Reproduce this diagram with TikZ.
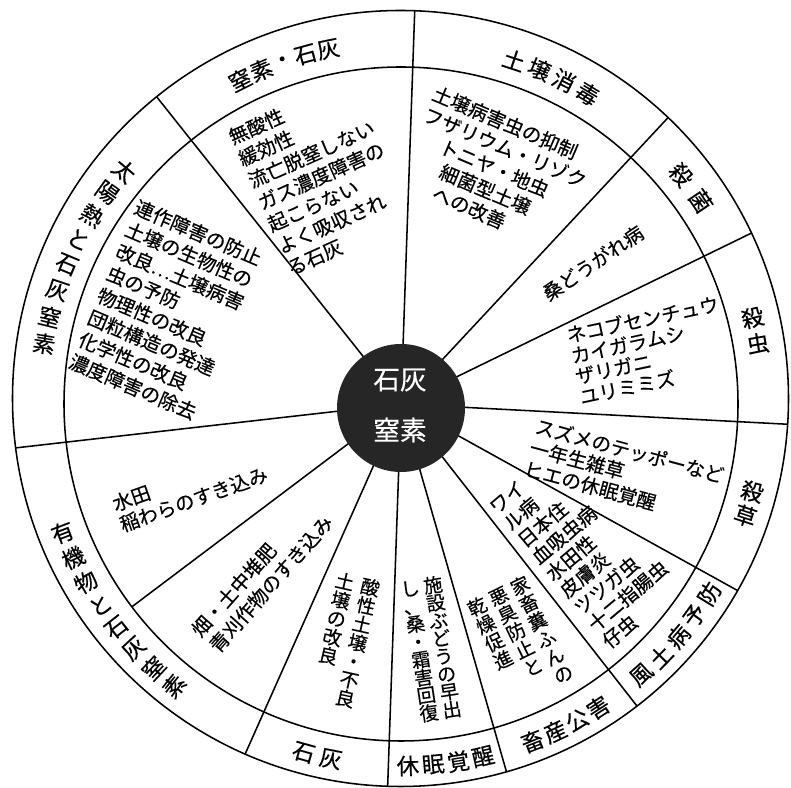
\documentclass[tikz,border=0pt]{standalone}
\usepackage{fontspec}
\setmainfont{Noto Sans CJK JP}[FakeBold=0.4]

\makeatletter
% characters stacked into one vertical column
\newcommand\tate[1]{\vtop{\tate@next#1\@nil}}
\def\tate@next#1{\ifx#1\@nil\else\hbox to 1em{\hss#1\hss}\expandafter\tate@next\fi}
\makeatother

% label set character by character round the ring
\newcommand\ringlabel[5]{%
  \foreach \ch [count=\i] in {#5}
    \node[ringchar, rotate={#2+(\i-1)*(#3)+#4}] (#1-\i) at ({#2+(\i-1)*(#3)}:362) {\ch};
}

\begin{document}
\begin{tikzpicture}[x=0.025cm, y=0.025cm,
    ring/.style={line width=1.1pt},
    ringchar/.style={inner sep=0pt, font=\fontsize{16}{16}\selectfont},
    blk/.style={inner sep=0pt, align=left, font=\fontsize{13.8}{#1}\selectfont},
    blk/.default=17,
    tateblk/.style={inner sep=0pt, font=\fontsize{13.5}{#1}\selectfont},
    tateblk/.default=14,
    centre/.style={inner sep=0pt, text=white, font=\fontsize{19}{19}\selectfont}]
  \useasboundingbox (0,0) rectangle (791,788);

  \begin{scope}[shift={(401,384)}]
    % spokes
    \begin{scope}
      \clip (-0.5,5.5) circle (388);
      \foreach \a in {88,47,26,-3,-29,-52,-74,-92,-114,186.5,128.5}
        \draw[ring] (\a:60) -- (\a:400);
    \end{scope}
    \draw[ring] (-143:60) -- (-143:337);

    \draw[ring] (-0.5,5.5) circle (388);
    \draw[ring] (0,0) circle (337);

    \fill[black!85] (0,-4) circle (64);
    \node[centre] (lime) at (-1,24) {石灰};
    \node[centre] (nitrogen) at (-1,-26) {窒素};

    % ring labels
    \ringlabel{nitrolime}{116.4}{-3.7}{-90}{窒,素,・,石,灰}
    \ringlabel{soildis}{71.8}{-4.27}{-90}{土,壌,消,毒}
    \ringlabel{fungi}{39.3}{-5.2}{-90}{殺,菌}
    \ringlabel{insect}{13.8}{-4.2}{0}{殺,虫}
    \ringlabel{weed}{-14}{-4}{0}{殺,草}
    \ringlabel{endemic}{-48.4}{4.2}{90}{風,土,病,予,防}
    \ringlabel{livestock}{-68.7}{3.9}{90}{畜,産,公,害}
    \ringlabel{dormancy}{-88.9}{4}{90}{休,眠,覚,醒}
    \ringlabel{limeonly}{-105.6}{4.4}{90}{石,灰}
    \ringlabel{organic}{-159.2}{4.34}{180}{有,機,物,と,石,灰,窒,素}
    \ringlabel{solar}{139.9}{4.36}{180}{太,陽,熱,と,石,灰,窒,素}
  \end{scope}

  % texts of the sectors
  \node[blk, rotate=24] (nitroText) at (321,612)
    {無酸性\\緩効性\\流亡脱窒しない\\ガス濃度障害の\\起こらない\\よく吸収され\\る石灰};
  \node[blk=16.4, rotate=-23] (soilText) at (496,619)
    {土壌病害虫の抑制\\フザリウム・リゾク\\\hspace*{1.4em}トニヤ・地虫\\\hspace*{1.9em}細菌型土壌\\\hspace*{2em}への改善};
  \node[blk, rotate=34] (mulberryText) at (593,525) {桑どうがれ病};
  \node[blk=15, rotate=12] (insectText) at (649,438)
    {ネコブセンチュウ\\カイガラムシ\\ザリガニ\\ユリミミズ};
  \node[blk=15.6, rotate=-15] (weedText) at (624,316)
    {スズメのテッポーなど\\一年生雑草\\ヒエの休眠覚醒};
  \node[blk=15.6, rotate=40] (endemicText) at (586,242)
    {ワイ\\ル病\\日本住\\血吸虫病\\水田性\\皮膚炎\\ツツガ虫\\十二指腸虫\\仔虫};
  \node[tateblk=14, rotate=26] (manureText) at (520,148)
    {\tate{乾燥促進}\hspace{3.5pt}\tate{悪臭防止と}\hspace{3.5pt}\tate{家畜糞ふんの}};
  \node[tateblk=12.8, rotate=8.6] (grapeText) at (431,139)
    {\tate{し、桑・霜害回復}\hspace{3pt}\tate{施設ぶどうの早出}};
  \node[tateblk=13.5, rotate=-12.7] (acidText) at (345,148)
    {\tate{土壌の改良}\hspace{5pt}\tate{酸性土壌・不良}};
  \node[blk, rotate=48.5] (fieldText) at (262,212) {畑・土中堆肥\\青刈作物のすき込み};
  \node[blk=15.6, rotate=19.5] (paddyText) at (190,299) {水田\\稲わらのすき込み};
  \node[blk, rotate=-23] (rotationText) at (166,478)
    {連作障害の防止\\土壌の生物性の\\改良…土壌病害\\虫の予防\\物理性の改良\\団粒構造の発達\\化学性の改良\\濃度障害の除去};
\end{tikzpicture}
\end{document}
